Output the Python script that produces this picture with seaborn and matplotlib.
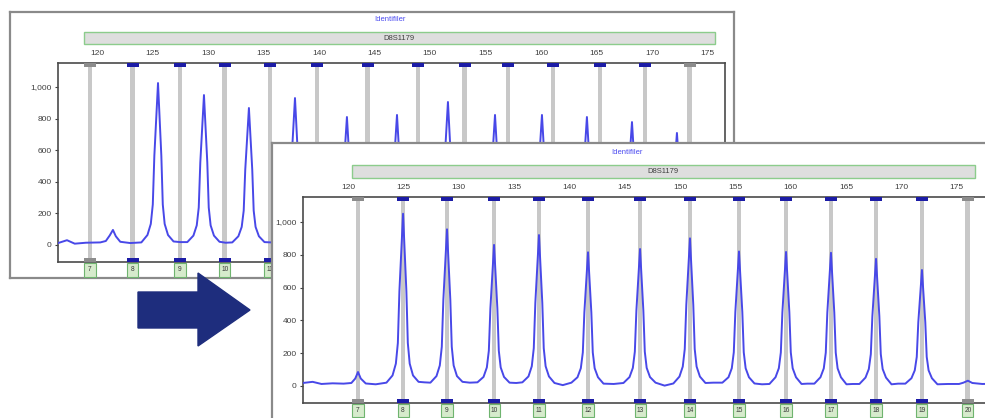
import matplotlib
matplotlib.use("Agg")
import matplotlib.pyplot as plt
from matplotlib.patches import Rectangle, Polygon
from matplotlib.ticker import FuncFormatter
import seaborn as sns

# allel etiketleri ve bin konumları (bp)
alleles = ["7", "8", "9", "10", "11", "12", "13", "14", "15", "16", "17", "18", "19", "20"]
back_bins = [119.37, 123.24, 127.48, 131.53, 135.59, 139.82, 144.41,
             148.92, 153.15, 157.03, 161.08, 165.32, 169.37, 173.42]
front_bins = [120.9, 124.97, 128.94, 133.19, 137.25, 141.68, 146.38,
              150.89, 155.32, 159.57, 163.63, 167.70, 171.85, 176.0]
size_ticks = [120, 125, 130, 135, 140, 145, 150, 155, 160, 165, 170, 175]
rfu_ticks = [0, 200, 400, 600, 800, 1000]
kit_name = "Identifiler"
marker_name = "D8S1179"

# arka panel (kalibrasyon öncesi) elektroferogram izi
back_bp = [116.5, 117.3, 118.0, 119.0, 120.3,
           120.8, 121.15, 121.44, 121.7, 122.1, 123.0,
           124.00, 124.55, 124.85, 125.03, 125.17, 125.50, 125.80, 125.93, 126.10, 126.40, 126.90, 127.5,
           128.14, 128.69, 128.99, 129.17, 129.31, 129.64, 129.94, 130.07, 130.24, 130.54, 131.04, 131.6,
           132.19, 132.74, 133.04, 133.22, 133.36, 133.69, 133.99, 134.12, 134.29, 134.59, 135.09, 135.7,
           136.34, 136.89, 137.19, 137.37, 137.51, 137.84, 138.14, 138.27, 138.44, 138.74, 139.24, 140.1,
           141.02, 141.57, 141.87, 142.05, 142.19, 142.52, 142.82, 142.95, 143.12, 143.42, 143.92, 144.7,
           145.53, 146.08, 146.38, 146.56, 146.70, 147.03, 147.33, 147.46, 147.63, 147.93, 148.43, 149.3,
           150.12, 150.67, 150.97, 151.15, 151.29, 151.62, 151.92, 152.05, 152.22, 152.52, 153.02, 153.7,
           154.36, 154.91, 155.21, 155.39, 155.53, 155.86, 156.16, 156.29, 156.46, 156.76, 157.26, 157.9,
           158.59, 159.14, 159.44, 159.62, 159.76, 160.09, 160.39, 160.52, 160.69, 160.99, 161.49, 162.1,
           162.64, 163.19, 163.49, 163.67, 163.81, 164.14, 164.44, 164.57, 164.74, 165.04, 165.54, 166.1,
           166.70, 167.25, 167.55, 167.73, 167.87, 168.20, 168.50, 168.63, 168.80, 169.10, 169.60, 170.2,
           170.75, 171.30, 171.60, 171.78, 171.92, 172.25, 172.55, 172.68, 172.85, 173.15, 173.65,
           174.6, 175.6, 176.6]
back_rfu = [12, 30, 8, 14, 16,
            25, 60, 95, 55, 20, 12,
            16, 63, 133, 256, 564, 1025, 564, 256, 133, 63, 22, 18,
            18, 59, 124, 237, 522, 949, 522, 237, 124, 59, 20, 14,
            16, 55, 114, 217, 477, 867, 477, 217, 114, 55, 18, 16,
            18, 59, 122, 233, 512, 930, 512, 233, 122, 59, 18, 15,
            16, 53, 107, 203, 446, 810, 446, 203, 107, 53, 16, 14,
            16, 53, 109, 206, 453, 823, 453, 206, 109, 53, 16, 15,
            16, 57, 119, 226, 498, 905, 498, 226, 119, 57, 16, 14,
            16, 53, 109, 206, 453, 823, 453, 206, 109, 53, 16, 14,
            16, 53, 109, 206, 453, 823, 453, 206, 109, 53, 16, 14,
            16, 53, 107, 203, 446, 810, 446, 203, 107, 53, 16, 14,
            16, 51, 103, 195, 428, 778, 428, 195, 103, 51, 16, 14,
            16, 47, 95, 177, 390, 709, 390, 177, 95, 47, 16,
            14, 16, 14]

# ön panel (kalibrasyon sonrası) elektroferogram izi
front_bp = [115.9, 116.8, 117.6, 118.6, 119.6,
            120.3, 120.65, 120.9, 121.15, 121.6, 122.5,
            123.47, 124.02, 124.32, 124.50, 124.64, 124.97, 125.27, 125.40, 125.57, 125.87, 126.37, 126.9,
            127.44, 127.99, 128.29, 128.47, 128.61, 128.94, 129.24, 129.37, 129.54, 129.84, 130.34, 131.0,
            131.69, 132.24, 132.54, 132.72, 132.86, 133.19, 133.49, 133.62, 133.79, 134.09, 134.59, 135.2,
            135.75, 136.30, 136.60, 136.78, 136.92, 137.25, 137.55, 137.68, 137.85, 138.15, 138.65, 139.4,
            140.18, 140.73, 141.03, 141.21, 141.35, 141.68, 141.98, 142.11, 142.28, 142.58, 143.08, 144.0,
            144.88, 145.43, 145.73, 145.91, 146.05, 146.38, 146.68, 146.81, 146.98, 147.28, 147.78, 148.6,
            149.39, 149.94, 150.24, 150.42, 150.56, 150.89, 151.19, 151.32, 151.49, 151.79, 152.29, 153.0,
            153.82, 154.37, 154.67, 154.85, 154.99, 155.32, 155.62, 155.75, 155.92, 156.22, 156.72, 157.4,
            158.07, 158.62, 158.92, 159.10, 159.24, 159.57, 159.87, 160.00, 160.17, 160.47, 160.97, 161.5,
            162.13, 162.68, 162.98, 163.16, 163.30, 163.63, 163.93, 164.06, 164.23, 164.53, 165.03, 165.6,
            166.20, 166.75, 167.05, 167.23, 167.37, 167.70, 168.00, 168.13, 168.30, 168.60, 169.10, 169.7,
            170.35, 170.90, 171.20, 171.38, 171.52, 171.85, 172.15, 172.28, 172.45, 172.75, 173.25,
            174.2, 175.2, 175.6, 176.0, 176.4, 177.3, 178.9]
front_rfu = [18, 25, 12, 16, 14,
             18, 45, 85, 45, 15, 10,
             20, 64, 136, 262, 578, 1050, 578, 262, 136, 64, 25, 22,
             20, 60, 125, 239, 525, 955, 525, 239, 125, 60, 25, 20,
             22, 55, 113, 215, 473, 860, 473, 215, 113, 55, 20, 18,
             22, 58, 120, 230, 506, 920, 506, 230, 120, 58, 18, 5,
             20, 53, 108, 204, 448, 815, 448, 204, 108, 53, 14, 12,
             18, 54, 110, 209, 459, 835, 459, 209, 110, 54, 20, 2,
             15, 57, 118, 225, 495, 900, 495, 225, 118, 57, 18, 20,
             20, 53, 108, 205, 451, 820, 451, 205, 108, 53, 15, 10,
             12, 53, 108, 204, 449, 817, 449, 204, 108, 53, 12, 14,
             14, 53, 107, 203, 447, 812, 447, 203, 107, 53, 10, 12,
             12, 51, 103, 194, 426, 775, 426, 194, 103, 51, 10, 14,
             14, 47, 95, 177, 389, 707, 389, 177, 95, 47, 10,
             12, 12, 20, 32, 18, 12, 14]

sns.set_style("white")
plt.rcParams["font.family"] = ["Liberation Sans", "DejaVu Sans"]

fig = plt.figure(figsize=(9.85, 4.18), dpi=100)


def frame(rect):
    ax = fig.add_axes(rect)
    ax.set_xticks([])
    ax.set_yticks([])
    ax.set_facecolor("white")
    for s in ax.spines.values():
        s.set_color("#8a8a8a")
        s.set_linewidth(1.6)
    return ax


def panel(rect, xlim, ylim, bins, bp, rfu, bar_x, lab_h, kit_dx):
    ax = fig.add_axes(rect)
    ax.set_xlim(xlim)
    ax.set_ylim(ylim)
    tr = ax.get_xaxis_transform()
    n = len(bins)
    for i, c in enumerate(bins):
        ax.axvspan(c - 0.22, c + 0.22, color="#c8c8c8", lw=0, zorder=1)
        mcol = "#8c8c8c" if i in (0, n - 1) else "#1c1ca6"
        ax.add_patch(Rectangle((c - 0.55, 0.981), 1.1, 0.019, transform=tr,
                               color=mcol, lw=0, zorder=4, clip_on=False))
        ax.add_patch(Rectangle((c - 0.55, 0.0), 1.1, 0.019, transform=tr,
                               color=mcol, lw=0, zorder=4, clip_on=False))
        ax.add_patch(Rectangle((c - 0.5, -0.005 - lab_h), 1.0, lab_h, transform=tr,
                               facecolor="#d6ebcc", edgecolor="#6fb46f", lw=0.8,
                               zorder=4, clip_on=False))
        ax.text(c, -0.005 - lab_h / 2, alleles[i], transform=tr, ha="center",
                va="center", fontsize=4.8, color="#3a3a3a", zorder=5, clip_on=False)
    sns.lineplot(x=bp, y=rfu, ax=ax, color="#4848e8", lw=1.4,
                 estimator=None, sort=False, zorder=3)
    # marker çubuğu ve kit adı
    ax.add_patch(Rectangle((bar_x[0], 1.093), bar_x[1] - bar_x[0], 0.064, transform=tr,
                           facecolor="#dedede", edgecolor="#8ccc8c", lw=1.0, clip_on=False))
    ax.text((bar_x[0] + bar_x[1]) / 2, 1.125, marker_name, transform=tr, ha="center",
            va="center", fontsize=5.5, color="#404040")
    ax.text((bar_x[0] + bar_x[1]) / 2 + kit_dx, 1.218, kit_name, transform=tr, ha="center",
            va="center", fontsize=5.5, color="#4a4af0")
    ax.xaxis.tick_top()
    ax.set_xticks(size_ticks)
    ax.tick_params(axis="x", length=0, pad=4, labelsize=6, colors="#404040")
    ax.set_yticks(rfu_ticks)
    ax.yaxis.set_major_formatter(FuncFormatter(lambda v, p: f"{int(v):,}"))
    ax.tick_params(axis="y", left=True, length=2.5, width=0.8, pad=2, labelsize=6,
                   colors="#404040")
    for s in ax.spines.values():
        s.set_color("#4a4a4a")
        s.set_linewidth(1.2)
    ax.set_xlabel("")
    ax.set_ylabel("")
    return ax


# arka panel
frame([0.01015, 0.33493, 0.73503, 0.63636])
panel([0.05888, 0.37321, 0.67716, 0.47608], (116.49, 176.58), (-108, 1152),
      back_bins, back_bp, back_rfu, (118.8, 175.7), 0.068, -0.9)

# ok işareti
ov = fig.add_axes([0, 0, 1, 1])
ov.set_xlim(0, 985)
ov.set_ylim(418, 0)
ov.axis("off")
ov.patch.set_alpha(0)
ov.add_patch(Polygon([(138, 292), (198, 292), (198, 273), (250, 310),
                      (198, 346), (198, 328), (138, 328)],
                     closed=True, facecolor="#1e2d7d", edgecolor="#1e2d7d"))

# ön panel
frame([0.27614, -0.02871, 0.75127, 0.68660])
panel([0.30761, 0.03589, 0.70761, 0.49282], (115.93, 178.9), (-104, 1152),
      front_bins, front_bp, front_rfu, (120.36, 176.6), 0.063, -3.3)

fig.savefig("out.png", dpi=100)
